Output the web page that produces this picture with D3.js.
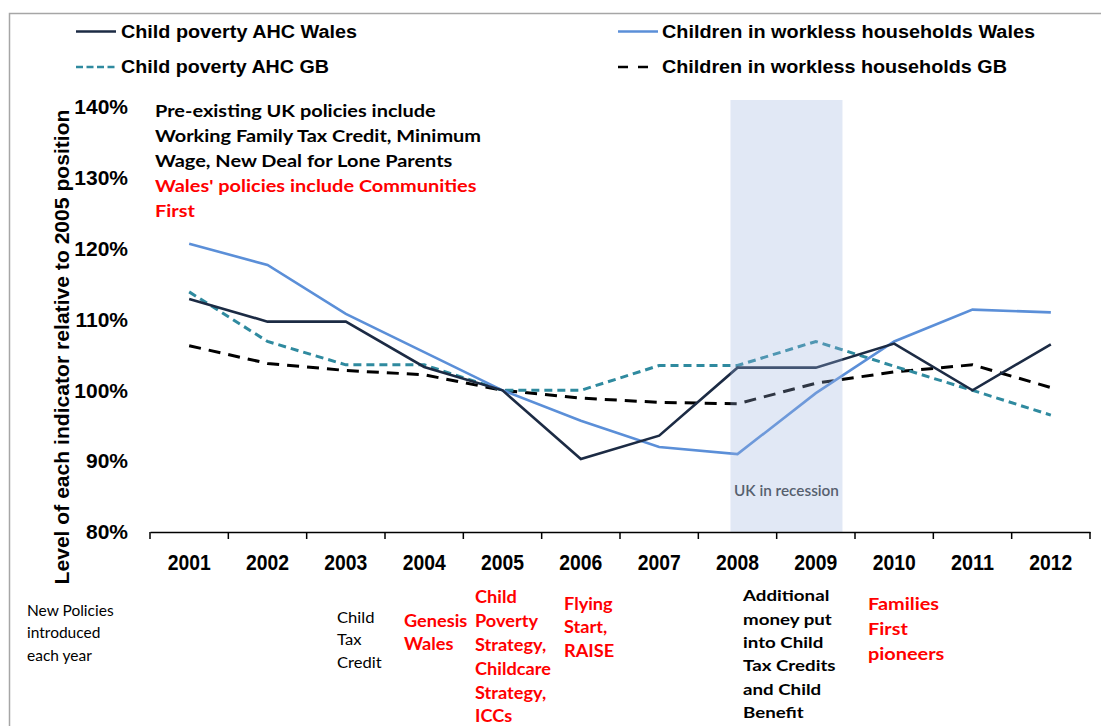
<!DOCTYPE html>
<html>
<head>
<meta charset="utf-8">
<script src="https://cdn.jsdelivr.net/npm/d3@7/dist/d3.min.js"></script>
<style>
  body { margin: 0; background: #fff; }
  svg text { font-family: "Liberation Sans Narrow", "Arial Narrow", "Liberation Sans", Arial, sans-serif; }
  svg text.note { font-family: Lato, Carlito, Calibri, "Open Sans", sans-serif; }
</style>
</head>
<body>
<svg id="chart" width="1101" height="726"></svg>
<script>
// data
var years = ["2001","2002","2003","2004","2005","2006","2007","2008","2009","2010","2011","2012"];
var povertyWales  = [1.129, 1.097, 1.097, 1.033, 1.000, 0.903, 0.936, 1.032, 1.032, 1.066, 1.000, 1.065];
var povertyGB     = [1.139, 1.069, 1.036, 1.036, 1.000, 1.000, 1.035, 1.035, 1.069, 1.034, 1.000, 0.965];
var worklessWales = [1.207, 1.177, 1.108, 1.054, 1.000, 0.957, 0.920, 0.910, 0.996, 1.069, 1.114, 1.110];
var worklessGB    = [1.063, 1.038, 1.028, 1.022, 1.000, 0.989, 0.983, 0.981, 1.010, 1.026, 1.036, 1.004];
var yTicks = [0.8, 0.9, 1.0, 1.1, 1.2, 1.3, 1.4];
var recession = ["2008", "2009"];

var svg = d3.select("#chart");

var x = d3.scaleBand().domain(years).range([150, 1090]).padding(0);
var y = d3.scaleLinear().domain([0.8, 1.4]).range([532, 107]);
var cx = function(d) { return x(d) + x.bandwidth() / 2; };

// squeeze / stretch text horizontally to the width seen in the picture
function fitWidth(sel, w) {
  sel.each(function() {
    d3.select(this).attr("textLength", w).attr("lengthAdjust", "spacingAndGlyphs");
  });
}

// frame
svg.append("rect").attr("x", 9.5).attr("y", 13.5).attr("width", 1100).attr("height", 760)
  .attr("fill", "none").attr("stroke", "#a6a6a6").attr("stroke-width", 1.5);

var series = [
  {name: "Child poverty AHC Wales", values: povertyWales, color: "#1c2b44", dash: null, w: 2.6},
  {name: "Children in workless households Wales", values: worklessWales, color: "#5b8fd8", dash: null, w: 2.6},
  {name: "Child poverty AHC GB", values: povertyGB, color: "#2f8a9f", dash: "8,5", w: 3},
  {name: "Children in workless households GB", values: worklessGB, color: "#000000", dash: "12,8", w: 3}
];

var line = d3.line()
  .x(function(d) { return cx(d.year); })
  .y(function(d) { return y(d.v); });

[3, 2, 1, 0].forEach(function(i) {
  var s = series[i];
  svg.append("path")
    .datum(years.map(function(yr, j) { return {year: yr, v: s.values[j]}; }))
    .attr("d", line)
    .attr("fill", "none")
    .attr("stroke", s.color)
    .attr("stroke-width", s.w)
    .attr("stroke-dasharray", s.dash);
});

// recession shading, over the lines as in the reference
var bx0 = x(recession[0]) + 0.41 * x.bandwidth();
var bx1 = x(recession[1]) + 0.84 * x.bandwidth();
svg.append("rect")
  .attr("x", bx0).attr("y", 100)
  .attr("width", bx1 - bx0)
  .attr("height", y(0.8) - 100)
  .attr("fill", "#9bb2de")
  .attr("fill-opacity", 0.3);

var rec = svg.append("text").attr("class", "note")
  .attr("x", (bx0 + bx1) / 2)
  .attr("y", 496)
  .attr("text-anchor", "middle")
  .attr("font-size", 15)
  .attr("font-weight", 600)
  .attr("fill", "#56606e")
  .text("UK in recession");
fitWidth(rec, 105);

// x axis
var xAxis = svg.append("g")
  .attr("transform", "translate(0," + y(0.8) + ")")
  .call(d3.axisBottom(x).tickSize(0).tickPadding(22));
xAxis.select(".domain").attr("stroke", "#000").attr("stroke-width", 1.5);
xAxis.selectAll("text").attr("font-size", 22).attr("font-weight", "bold").attr("fill", "#000");
fitWidth(xAxis.selectAll("text"), 43);

svg.append("g").selectAll("line")
  .data(d3.range(years.length + 1))
  .enter().append("line")
  .attr("x1", function(i) { return x.range()[0] + i * x.step(); })
  .attr("x2", function(i) { return x.range()[0] + i * x.step(); })
  .attr("y1", y(0.8)).attr("y2", y(0.8) + 7)
  .attr("stroke", "#000").attr("stroke-width", 1.5);

// y axis (labels only)
var yAxis = svg.append("g")
  .attr("transform", "translate(150,0)")
  .call(d3.axisLeft(y).tickValues(yTicks).tickSize(0).tickPadding(22).tickFormat(d3.format(".0%")));
yAxis.select(".domain").remove();
yAxis.selectAll("text").attr("font-size", 21).attr("font-weight", "bold").attr("fill", "#000");

var yTitle = svg.append("text")
  .attr("transform", "translate(69,347) rotate(-90)")
  .attr("text-anchor", "middle")
  .attr("font-size", 21)
  .attr("font-weight", "bold")
  .text("Level of each indicator relative to 2005 position");
fitWidth(yTitle, 475);

// legend
var legend = [
  {s: series[0], lx: 76, tx: 121, ty: 37.5, len: 40, w: 236, dash: null},
  {s: series[2], lx: 76, tx: 121, ty: 73, len: 40, w: 208, dash: "7,3.5"},
  {s: series[1], lx: 618, tx: 662, ty: 37.5, len: 40, w: 373, dash: null},
  {s: series[3], lx: 618, tx: 662, ty: 73, len: 31, w: 345, dash: "10,10"}
];
legend.forEach(function(l) {
  svg.append("line")
    .attr("x1", l.lx).attr("x2", l.lx + l.len)
    .attr("y1", l.ty - 6).attr("y2", l.ty - 6)
    .attr("stroke", l.s.color)
    .attr("stroke-width", 2.5)
    .attr("stroke-dasharray", l.dash);
  var t = svg.append("text")
    .attr("x", l.tx).attr("y", l.ty)
    .attr("font-size", 17.5).attr("font-weight", "bold")
    .text(l.s.name);
  fitWidth(t, l.w);
});

// annotations
function note(lines, x0, y0, dy, size, weight, color, sx) {
  var t = svg.append("text").attr("class", "note")
    .attr("transform", "translate(" + x0 + ",0) scale(" + sx + ",1)")
    .attr("font-size", size).attr("font-weight", weight).attr("fill", color);
  lines.forEach(function(s, i) {
    t.append("tspan").attr("x", 0).attr("y", y0 + i * dy).text(s);
  });
}

note(["Pre-existing UK policies include", "Working Family Tax Credit, Minimum", "Wage, New Deal for Lone Parents"],
  155, 117.5, 25, 17.5, "bold", "#000", 1.14);
note(["Wales' policies include Communities", "First"], 155, 192.5, 25, 17.5, "bold", "#ff0000", 1.14);

note(["New Policies", "introduced", "each year"], 27, 616, 22.5, 14.5, "normal", "#000", 1.07);
note(["Child", "Tax", "Credit"], 337, 623, 22.5, 15.5, "normal", "#000", 1.07);
note(["Genesis", "Wales"], 404, 627, 23.5, 17, "bold", "#ff0000", 1.07);
note(["Child", "Poverty", "Strategy,", "Childcare", "Strategy,", "ICCs"], 475, 603, 23.9, 17, "bold", "#ff0000", 1.07);
note(["Flying", "Start,", "RAISE"], 564, 610, 23.5, 17, "bold", "#ff0000", 1.07);
note(["Additional", "money put", "into Child", "Tax Credits", "and Child", "Benefit"], 743, 601.5, 23.3, 16, "bold", "#000", 1.17);
note(["Families", "First", "pioneers"], 868, 610.5, 25, 17, "bold", "#ff0000", 1.17);
</script>
</body>
</html>
